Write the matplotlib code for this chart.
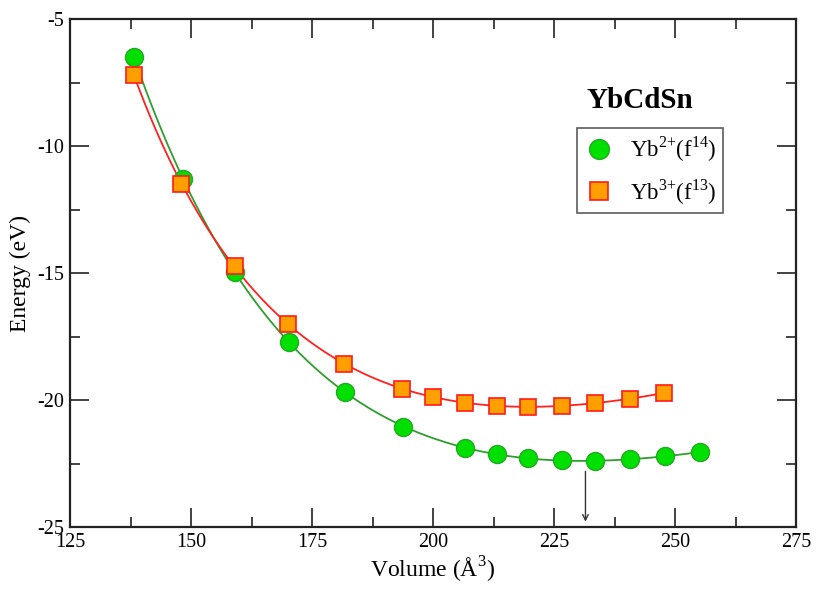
import numpy as np
import matplotlib
matplotlib.use('Agg')
import matplotlib.pyplot as plt
from matplotlib.ticker import MultipleLocator

plt.rcParams['font.family'] = ['Liberation Serif', 'DejaVu Serif']
plt.rcParams['mathtext.fontset'] = 'custom'
plt.rcParams['mathtext.rm'] = 'Liberation Serif'
plt.rcParams['axes.unicode_minus'] = False

# Yb2+ (f14)
vol_f14 = [138.2, 148.3, 159.1, 170.2, 181.8, 193.8, 206.6, 213.2, 219.6, 226.6, 233.5, 240.7, 247.9, 255.2]
en_f14 = [-6.5, -11.3, -14.96, -17.7, -19.7, -21.06, -21.88, -22.13, -22.28, -22.38, -22.4, -22.33, -22.22, -22.05]

# Yb3+ (f13)
vol_f13 = [138.2, 148.0, 159.0, 170.0, 181.6, 193.6, 200.0, 206.6, 213.2, 219.6, 226.6, 233.5, 240.7, 247.7]
en_f13 = [-7.2, -11.5, -14.72, -17.0, -18.6, -19.55, -19.88, -20.1, -20.22, -20.27, -20.23, -20.12, -19.96, -19.72]

eq_volume = 231.5

fig = plt.figure(figsize=(8.22, 6.11), dpi=100)
ax = fig.add_axes([70/822, 1 - 527/611, (796-70)/822, (527-19)/611])

# smooth fits through the points
for v, e, col in [(vol_f14, en_f14, '#2e9e2e'), (vol_f13, en_f13, '#ff2020')]:
    inv = 1.0 / np.array(v)
    coef = np.polyfit(inv, e, 4)
    vv = np.linspace(min(v), max(v), 300)
    ax.plot(vv, np.polyval(coef, 1.0 / vv), color=col, lw=1.3, zorder=2)

ax.plot(vol_f14, en_f14, 'o', ms=13, mfc='#00e000', mec='#22a822', mew=1.0,
        ls='none', zorder=3, label=r'Yb$^{\text{2+}}$(f$^{14}$)')
ax.plot(vol_f13, en_f13, 's', ms=11.5, mfc='#ffa000', mec='#ff1a1a', mew=1.2,
        ls='none', zorder=3, label=r'Yb$^{\text{3+}}$(f$^{13}$)')

ax.annotate('', xy=(eq_volume, -24.9), xytext=(eq_volume, -22.7),
            arrowprops=dict(arrowstyle='->', color='#333333', lw=1.0))

ax.set_xlim(125, 275)
ax.set_ylim(-25, -5)
ax.xaxis.set_major_locator(MultipleLocator(25))
ax.xaxis.set_minor_locator(MultipleLocator(12.5))
ax.yaxis.set_major_locator(MultipleLocator(5))
ax.yaxis.set_minor_locator(MultipleLocator(2.5))
ax.tick_params(which='both', direction='in', top=True, right=True,
               labelsize=14.5, color='#222222', width=1.2, pad=4)
ax.tick_params(which='major', length=14)
ax.tick_params(which='minor', length=7)
for s in ax.spines.values():
    s.set_linewidth(1.6)
    s.set_color('#222222')

ax.set_xlabel(r'Volume (Å$^3$)', fontsize=17, labelpad=2)
ax.set_ylabel('Energy (eV)', fontsize=17, labelpad=5)

fig.text(640/822, 1 - 101/611, 'YbCdSn', fontsize=21, fontweight='bold',
         ha='center', va='center')

leg = ax.legend(loc='upper left', bbox_to_anchor=((577-70)/726, 1 - (128-19)/508),
                fontsize=16.5, frameon=True, fancybox=False, edgecolor='#333333',
                handletextpad=0.7, borderpad=0.3, labelspacing=0.55,
                handlelength=1.3, borderaxespad=0, markerscale=1.1)
leg.get_frame().set_linewidth(1.2)

fig.savefig('out.png', dpi=100)
